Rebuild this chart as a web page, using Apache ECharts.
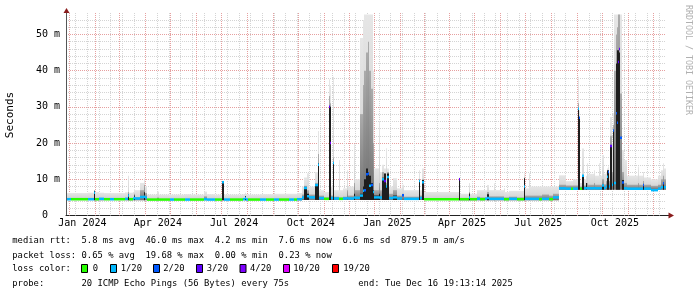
<!DOCTYPE html>
<html><head><meta charset="utf-8">
<script src="https://cdn.jsdelivr.net/npm/echarts@6/dist/echarts.min.js"></script>
<style>html,body{margin:0;padding:0;background:#fff;overflow:hidden}#c{width:697px;height:297px}</style>
</head><body><div id="c"></div>
<script>
// ---- data (each row = one time bucket starting at startDates[i]) ----
const startDates = [
'2023-12-27','2024-01-03','2024-01-23','2024-01-30','2024-02-01','2024-02-06','2024-02-11','2024-02-19','2024-02-23','2024-03-08',
'2024-03-11','2024-03-13','2024-03-17','2024-03-19','2024-03-20','2024-03-26','2024-03-30','2024-04-01','2024-04-03','2024-04-15',
'2024-04-17','2024-05-01','2024-05-06','2024-05-19','2024-05-25','2024-06-10','2024-06-14','2024-06-24','2024-07-02','2024-07-04',
'2024-07-12','2024-07-27','2024-07-30','2024-07-31','2024-08-02','2024-08-17','2024-08-24','2024-09-02','2024-09-09','2024-09-20',
'2024-09-26','2024-09-30','2024-10-06','2024-10-09','2024-10-12','2024-10-14','2024-10-22','2024-10-25','2024-10-27','2024-11-01',
'2024-11-08','2024-11-09','2024-11-10','2024-11-12','2024-11-14','2024-11-19','2024-11-20','2024-11-24','2024-11-29','2024-11-30',
'2024-12-07','2024-12-09','2024-12-15','2024-12-18','2024-12-20','2024-12-22','2024-12-24','2024-12-26','2024-12-28','2024-12-30',
'2025-01-01','2025-01-06','2025-01-08','2025-01-10','2025-01-12','2025-01-13','2025-01-15','2025-01-16','2025-01-18','2025-01-23',
'2025-01-28','2025-02-03','2025-02-06','2025-02-23','2025-02-25','2025-02-27','2025-03-01','2025-04-13','2025-04-14','2025-04-24',
'2025-04-26','2025-05-04','2025-05-08','2025-05-14','2025-05-16','2025-05-18','2025-05-24','2025-05-25','2025-06-05','2025-06-06',
'2025-06-12','2025-06-21','2025-06-29','2025-07-01','2025-07-05','2025-07-06','2025-07-17','2025-07-21','2025-07-29','2025-08-03',
'2025-08-10','2025-08-19','2025-08-25','2025-08-27','2025-09-02','2025-09-04','2025-09-05','2025-09-07','2025-09-09','2025-09-12',
'2025-09-13','2025-09-14','2025-09-21','2025-09-23','2025-09-27','2025-09-28','2025-10-01','2025-10-03','2025-10-06','2025-10-07',
'2025-10-08','2025-10-09','2025-10-11','2025-10-13','2025-10-14','2025-10-16','2025-10-18','2025-10-19','2025-10-20','2025-10-22',
'2025-10-23','2025-10-25','2025-10-28','2025-10-31','2025-11-13','2025-11-14','2025-11-19','2025-11-20','2025-11-29','2025-12-07',
'2025-12-11','2025-12-13','2025-12-15'
];
// median rtt (ms)
const median = [
4.5,4.5,4.5,6.3,4.5,4.6,4.5,4.5,4.5,4.6,
5.5,4.5,4.6,4.8,4.7,5.1,5.2,5.0,4.4,4.4,
4.4,4.4,4.4,4.4,4.4,4.5,4.4,4.4,9.2,4.4,
4.4,4.5,4.8,4.4,4.4,4.4,4.4,4.4,4.4,4.4,
4.4,4.5,5.0,7.6,5.3,5.0,8.4,14.0,4.8,4.6,
30.0,20.0,4.8,14.5,4.7,4.7,4.6,4.7,4.8,4.7,
5.0,4.9,5.5,6.8,7.0,11.4,11.6,8.2,8.4,6.5,
5.0,5.0,5.0,10.0,5.0,9.5,8.0,10.6,4.8,5.0,
4.7,5.6,4.6,9.5,4.8,9.2,4.5,10.0,4.5,5.0,
4.5,4.6,4.5,4.6,4.8,4.6,4.7,4.6,4.6,4.5,
4.6,4.5,8.0,4.6,4.7,4.6,4.5,4.6,4.5,5.0,
7.5,7.4,7.4,7.4,29.5,27.0,7.4,11.0,7.5,7.5,
7.5,7.5,7.6,7.5,7.6,7.5,8.3,7.6,8.0,10.7,
12.0,8.0,19.2,8.5,23.5,9.0,28.2,25.6,42.4,46.0,
21.5,9.1,7.5,7.4,7.4,7.4,8.4,7.4,7.0,7.4,
7.8,8.9,7.8
];
// lost pings out of 20
const lossCount = [
1,0,1,1,0,1,0,1,0,1,
1,0,1,1,1,1,1,1,0,0,
0,1,0,1,0,1,1,0,1,1,
0,1,1,1,0,1,0,1,0,1,
0,1,1,1,1,1,1,1,1,0,
3,4,1,1,1,0,0,1,1,1,
1,1,1,1,2,2,2,1,2,1,
1,1,1,1,1,3,1,1,1,1,
1,2,1,1,1,1,0,3,0,1,
0,1,0,1,1,1,1,1,1,0,
1,0,1,1,1,1,0,1,0,1,
1,1,0,1,1,2,0,1,1,1,
1,1,1,1,1,1,1,1,1,1,
2,1,3,1,2,1,2,2,3,3,
2,2,1,1,1,1,2,1,1,1,
1,2,1
];
// smoke: fastest ping (ms)
const smokeLo = [
4.2,4.2,4.2,4.2,4.2,4.2,4.2,4.2,4.2,4.2,
4.2,4.2,4.2,4.2,4.2,4.2,4.2,4.2,4.2,4.2,
4.2,4.2,4.2,4.2,4.2,4.2,4.2,4.2,4.2,4.2,
4.2,4.2,4.2,4.2,4.2,4.2,4.2,4.2,4.2,4.2,
4.2,4.2,4.3,4.3,4.3,4.3,4.3,4.3,4.3,4.3,
4.3,4.3,4.3,4.3,4.3,4.3,4.3,4.3,4.3,4.3,
4.3,4.3,4.3,4.3,4.3,4.3,4.3,4.3,4.3,4.3,
4.3,4.3,4.3,4.3,4.3,4.3,4.3,4.3,4.3,4.3,
4.3,4.3,4.3,4.3,4.3,4.3,4.3,4.2,4.2,4.2,
4.2,4.2,4.2,4.2,4.2,4.2,4.2,4.2,4.2,4.2,
4.2,4.2,4.2,4.2,4.2,4.2,4.2,4.2,4.2,4.2,
7.1,7.1,7.1,7.1,7.1,7.1,7.1,7.1,7.1,7.1,
7.1,7.1,7.1,7.1,7.1,7.1,7.1,7.1,7.1,7.1,
7.1,7.1,7.1,7.1,7.1,7.1,7.1,7.1,7.1,7.1,
7.1,7.1,7.1,7.1,7.1,7.1,7.1,7.1,7.1,7.1,
7.1,7.1,7.1
];
// smoke: slowest ping (ms)
const smokeHi = [
6.2,6.2,6.3,7.0,6.5,6.3,6.2,6.2,6.2,6.4,
11.0,6.3,6.5,7.3,7.0,9.0,10.3,8.0,5.8,6.6,
5.8,5.8,5.8,5.9,5.8,6.6,5.9,5.8,9.6,5.8,
5.8,5.9,6.3,5.9,5.8,5.9,5.9,6.0,6.0,6.0,
6.0,6.2,8.0,10.5,11.7,8.0,12.0,23.3,7.0,6.5,
37.6,36.0,8.0,38.3,7.0,15.3,7.0,7.5,12.5,8.0,
19.7,10.0,49.0,54.0,55.5,55.5,55.5,55.5,55.5,40.0,
13.0,26.0,12.0,14.0,9.0,13.0,18.6,13.0,8.0,10.3,
7.5,8.5,7.0,12.5,7.0,13.0,6.5,10.5,6.0,9.0,
6.0,7.0,7.0,7.0,8.4,7.0,8.9,7.0,7.5,6.5,
6.8,6.8,11.6,7.5,11.7,8.0,8.0,8.0,8.0,8.0,
11.1,9.5,9.5,10.0,38.3,29.0,9.0,18.5,10.0,11.0,
14.4,11.5,12.5,11.0,14.4,11.0,16.7,11.5,12.0,13.0,
13.5,12.0,27.2,20.0,28.2,55.5,55.5,55.5,55.5,55.5,
55.5,18.0,15.3,11.0,13.5,11.0,12.0,10.5,10.0,11.0,
12.5,14.4,13.0
];
// smoke: upper edge of the mid-grey band (ms)
const smokeMid = [
4.2,4.2,4.2,6.2,4.6,4.6,4.2,4.2,4.2,4.5,
6.5,4.5,4.6,6.0,5.0,7.0,8.4,6.2,4.2,5.0,
4.2,4.2,4.2,4.2,4.2,5.3,4.2,4.2,9.5,4.2,
4.2,4.2,5.4,4.2,4.2,4.2,4.2,4.2,4.2,4.2,
4.2,4.3,5.8,8.2,7.0,5.8,9.0,17.0,5.5,5.0,
33.0,31.0,5.5,16.0,5.2,7.0,5.0,5.2,7.0,5.5,
9.0,7.0,28.0,36.0,40.0,45.0,48.0,40.0,35.0,20.0,
7.0,9.0,7.0,12.0,6.0,11.6,9.0,12.0,6.0,7.0,
5.5,6.0,5.2,10.0,5.5,10.0,4.8,10.3,4.5,6.5,
4.5,5.2,5.0,5.0,6.5,5.3,6.0,5.3,5.5,5.0,
5.2,5.0,10.5,5.5,6.5,5.5,5.5,5.8,5.5,6.0,
8.5,8.3,8.3,8.3,31.0,27.2,8.0,11.0,8.3,9.0,
9.0,8.5,9.0,8.5,9.0,8.5,10.0,8.6,9.5,12.0,
12.5,9.5,22.0,12.0,25.0,40.0,50.0,52.0,55.5,55.5,
33.7,12.0,9.0,8.5,9.0,8.5,9.5,8.5,8.2,8.5,
10.0,11.0,10.0
];
// smoke: upper edge of the dense dark core (ms), 0 = none
const smokeDark = [
0,0,0,6.8,0,0,0,0,0,0,
5.9,0,0,5.5,0,0,6.4,0,0,0,
0,0,0,0,0,0,0,0,9.5,0,
0,0,5.4,0,0,0,0,0,0,0,
0,0,0,7.9,6.0,0,8.6,14.4,0,0,
30.2,30.0,0,14.7,0,0,0,0,0,0,
6.0,0,6.0,8.0,10.0,13.0,12.0,11.0,9.0,7.0,
5.5,6.0,0,10.4,0,11.6,8.0,11.6,0,5.5,
0,0,0,9.8,0,9.8,0,10.3,0,6.1,
0,0,0,0,5.9,0,0,0,0,0,
0,0,10.3,0,0,0,0,0,0,0,
0,0,0,0,29.5,27.2,0,10.7,0,9.0,
0,0,0,0,0,0,8.5,0,0,12.5,
12.5,0,19.0,0,23.4,0,42.0,45.6,45.6,45.0,
0,9.8,0,0,0,0,8.6,0,0,0,
0,9.2,0
];
const yTicks = [0, 10, 20, 30, 40, 50];
const xLabelMonths = ['2024-01','2024-04','2024-07','2024-10','2025-01','2025-04','2025-07','2025-10'];
const lossLevels = [0, 1, 2, 3, 4, 10, 19];
const lossLabels = ['0', '1/20', '2/20', '3/20', '4/20', '10/20', '19/20'];
const lossColors = ['#26ff00', '#00b8ff', '#0059ff', '#5e00ff', '#7e00ff', '#dd00ff', '#ff0000'];

// ---- build ----
const START = Date.UTC(2023, 11, 27, 19, 13, 14);
const END = Date.UTC(2025, 11, 16, 19, 13, 14);
const YMAX = 55.5;
const MONO = '"DejaVu Sans Mono", "Liberation Mono", monospace';
const T = s => { const p = s.split('-').map(Number); return Date.UTC(p[0], p[1] - 1, p[2] || 1); };
const MON = ['Jan','Feb','Mar','Apr','May','Jun','Jul','Aug','Sep','Oct','Nov','Dec'];
const colorOfLoss = n => lossColors[Math.max(0, lossLevels.indexOf(n))];
[median, lossCount, smokeLo, smokeHi, smokeMid, smokeDark].forEach((a, k) => {
  if (a.length !== startDates.length) console.error('length mismatch', k, a.length, startDates.length);
});

const items = startDates.map((s, i) => [
  Math.max(T(s), START),
  i + 1 < startDates.length ? T(startDates[i + 1]) : END,
  smokeLo[i], smokeHi[i], smokeMid[i], smokeDark[i], median[i], lossCount[i]
]);

// grid lines: month starts (major) and fortnightly Mondays (minor)
const monthLines = [];
for (let y = 2024, m = 0; ; m++) { if (m > 11) { m = 0; y++; } const t = Date.UTC(y, m, 1); if (t >= END) break; monthLines.push([t, 1]); }
const weekLines = [];
for (let t = Date.UTC(2024, 0, 8); t < END; t += 14 * 86400000) weekLines.push([t, 0]);
const gridLines = weekLines.concat(monthLines);

const xLabelValues = xLabelMonths.map(s => { const p = s.split('-').map(Number); return (Date.UTC(p[0], p[1] - 1, 1) + Date.UTC(p[0], p[1], 1)) / 2; });

const lightFill = new echarts.graphic.LinearGradient(0, 0, 0, 1, [{offset: 0, color: '#e6e6e6'}, {offset: 1, color: '#cdcdcd'}]);
const midFill = new echarts.graphic.LinearGradient(0, 0, 0, 1, [{offset: 0, color: '#ababab'}, {offset: 1, color: '#707070'}]);
const darkFill = '#1e1e1e';

function renderSmoke(params, api) {
  const cs = params.coordSys;
  const t0 = api.value(0), t1 = api.value(1);
  let x0 = Math.round(api.coord([t0, 0])[0]);
  let x1 = Math.round(api.coord([t1, 0])[0]);
  if (x1 <= x0) x1 = x0 + 1;
  x0 = Math.max(x0, Math.round(cs.x) + 1);
  x1 = Math.min(x1, cs.x + cs.width);
  const Y = v => api.coord([t0, Math.min(v, YMAX)])[1];
  const lo = api.value(2), hi = api.value(3), mid = api.value(4), dark = api.value(5), med = api.value(6), loss = api.value(7);
  const ch = [];
  const band = (a, b, fill) => {
    if (b > a) {
      const yt = Y(b), yb = Y(a);
      ch.push({type: 'rect', shape: {x: x0, y: yt, width: x1 - x0, height: yb - yt}, style: {fill: fill}});
    }
  };
  band(lo, hi, lightFill);
  band(lo, mid, midFill);
  band(lo, dark, darkFill);
  const ym = Y(med);
  ch.push({type: 'rect', shape: {x: x0, y: ym - 1.25, width: x1 - x0, height: 2.5}, style: {fill: colorOfLoss(loss)}});
  return {type: 'group', children: ch};
}

function renderGridLine(params, api) {
  const cs = params.coordSys;
  const x = Math.round(api.coord([api.value(0), 0])[0]) + 0.5;
  const major = api.value(1) === 1;
  return {type: 'line', shape: {x1: x, y1: cs.y - 1.5, x2: x, y2: cs.y + cs.height},
    style: {stroke: major ? '#e6a0a0' : '#d4d4d4', lineWidth: 1, lineDash: [1, 1]}};
}

const legendFont = '8.85px ' + MONO;
const txt = (x, y, s) => ({type: 'text', x: x, y: y, silent: true,
  style: {text: s, font: legendFont, fill: '#000', textVerticalAlign: 'middle', verticalAlign: 'middle'}});
const legendBoxX = [81, 110, 153, 196, 239.5, 283, 332];
const legendTextX = [92.7, 120.7, 163.3, 206.7, 250, 293.3, 343.3];
const graphics = [
  txt(12.3, 240.8, 'median rtt:  5.8 ms avg  46.0 ms max  4.2 ms min  7.6 ms now  6.6 ms sd  879.5 m am/s'),
  txt(12.3, 255.6, 'packet loss: 0.65 % avg  19.68 % max  0.00 % min  0.23 % now'),
  txt(12.3, 268.8, 'loss color:'),
  txt(12.3, 283.8, 'probe:       20 ICMP Echo Pings (56 Bytes) every 75s'),
  txt(358.3, 283.8, 'end: Tue Dec 16 19:13:14 2025'),
  // axis extensions and arrows
  {type: 'line', silent: true, shape: {x1: 66.5, y1: 10, x2: 66.5, y2: 14.5}, style: {stroke: '#555', lineWidth: 1}},
  {type: 'polygon', silent: true, shape: {points: [[63.5, 13], [69.5, 13], [66.5, 8]]}, style: {fill: '#8a1c1c'}},
  {type: 'line', silent: true, shape: {x1: 666, y1: 215.5, x2: 669, y2: 215.5}, style: {stroke: '#222', lineWidth: 1}},
  {type: 'polygon', silent: true, shape: {points: [[668.5, 212.5], [668.5, 218.5], [674, 215.5]]}, style: {fill: '#8a1c1c'}},
  // watermark
  {type: 'text', x: 688, y: 5, rotation: -Math.PI / 2, silent: true,
    style: {text: 'RRDTOOL / TOBI OETIKER', font: '8.3px ' + MONO, fill: '#b0b0b0', textVerticalAlign: 'middle', verticalAlign: 'middle'}}
];
lossLabels.forEach((lab, i) => {
  graphics.push({type: 'rect', silent: true, shape: {x: legendBoxX[i] + 0.5, y: 264.5, width: 6, height: 8},
    style: {fill: lossColors[i], stroke: '#000', lineWidth: 1}});
  graphics.push(txt(legendTextX[i], 268.8, lab));
});

const chart = echarts.init(document.getElementById('c'), null, {renderer: 'canvas'});
chart.setOption({
  animation: false,
  backgroundColor: '#fff',
  grid: {left: 66, top: 14.5, width: 600, height: 201, containLabel: false, outerBoundsMode: 'none'},
  xAxis: {
    type: 'value', min: START, max: END, scale: true,
    axisLine: {show: true, lineStyle: {color: '#222', width: 1}},
    axisTick: {show: false},
    splitLine: {show: false},
    axisLabel: {
      customValues: xLabelValues, margin: 3, color: '#000', fontFamily: MONO, fontSize: 10,
      hideOverlap: false,
      formatter: v => { const d = new Date(v); return MON[d.getUTCMonth()] + ' ' + d.getUTCFullYear(); }
    }
  },
  yAxis: [
    { // minor horizontal grid
      type: 'value', position: 'left', min: 0, max: YMAX, interval: 2,
      axisLine: {show: false}, axisTick: {show: false}, axisLabel: {show: false},
      splitLine: {show: true, showMinLine: false, showMaxLine: false, lineStyle: {color: '#d4d4d4', type: [1, 1], width: 1}}
    },
    { // major grid, labels
      type: 'value', position: 'left', min: 0, max: YMAX, interval: 10,
      name: 'Seconds', nameLocation: 'middle', nameGap: 50, nameRotate: 90,
      nameTextStyle: {fontFamily: MONO, fontSize: 11, color: '#000'},
      axisLine: {show: true, lineStyle: {color: '#555', width: 1}},
      axisTick: {show: false},
      axisLabel: {show: true, margin: 6, color: '#000', fontFamily: MONO, fontSize: 10,
        customValues: yTicks,
        formatter: v => v === 0 ? '0  ' : v + ' m'},
      splitLine: {show: true, showMinLine: false, showMaxLine: false, lineStyle: {color: '#e6a0a0', type: [1, 1], width: 1}}
    }
  ],
  series: [
    {type: 'custom', name: 'grid', xAxisIndex: 0, yAxisIndex: 1, z: 1, silent: true,
      renderItem: renderGridLine, data: gridLines, encode: {x: 0}},
    {type: 'custom', name: 'smoke', xAxisIndex: 0, yAxisIndex: 1, z: 2, silent: true,
      renderItem: renderSmoke, data: items, encode: {x: [0, 1], y: [2, 3, 4, 5, 6]}}
  ],
  graphic: graphics
});
</script>
</body></html>
